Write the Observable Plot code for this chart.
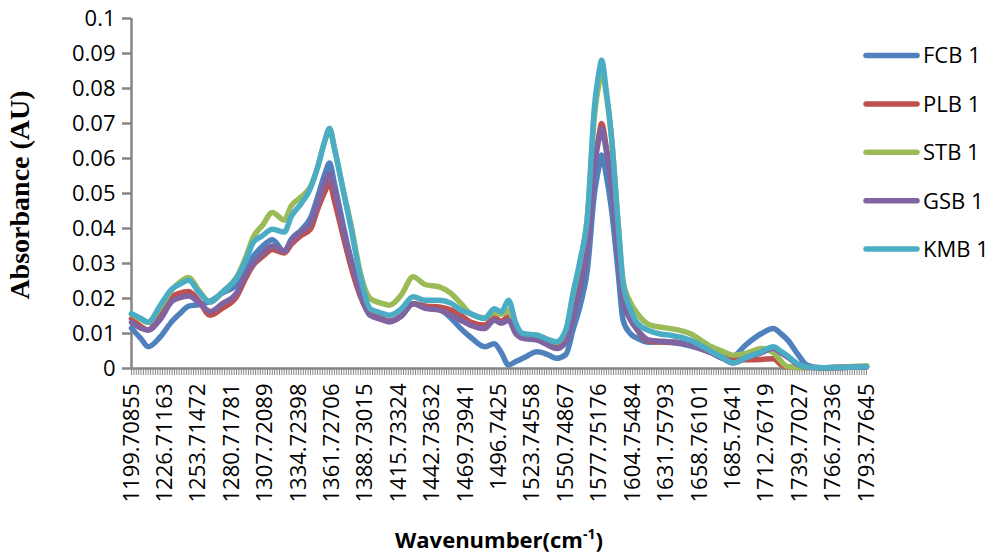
<!DOCTYPE html>
<html><head><meta charset="utf-8">
<script src="https://cdn.jsdelivr.net/npm/d3@7"></script>
<script src="https://cdn.jsdelivr.net/npm/@observablehq/plot@0.6"></script>
<style>
body{margin:0;background:#fff;}
#chart{position:relative;width:994px;height:553px;overflow:hidden;}
</style>
</head><body><div id="chart"></div>
<script>
const seriesNames = ["FCB 1","PLB 1","STB 1","GSB 1","KMB 1"];
const seriesColors = ["#4F81BD","#C0504D","#9BBB59","#8064A2","#4BACC6"];

const wavenumbers = [1199.71,1207.42,1213.21,1222.85,1232.50,1238.28,1246.00,1253.71,1263.36,1273.00,
1284.58,1292.29,1298.08,1305.79,1313.51,1323.15,1328.94,1336.65,1344.37,1350.15,
1355.94,1359.80,1363.66,1371.37,1377.16,1384.87,1392.59,1400.30,1408.02,1417.66,
1427.31,1436.95,1448.52,1458.17,1465.88,1473.60,1485.17,1492.88,1498.67,1504.46,
1510.24,1516.03,1527.60,1537.25,1543.03,1550.75,1556.54,1562.32,1568.11,1573.89,
1577.75,1579.68,1583.54,1587.40,1593.18,1597.04,1602.83,1608.61,1618.26,1627.90,
1635.62,1651.05,1668.41,1678.05,1685.76,1695.41,1708.91,1718.56,1724.34,1730.13,
1737.84,1745.56,1757.13,1772.56,1793.78];

const fcb = [0.0115,0.0085,0.0062,0.009,0.0135,0.0155,0.0178,0.0182,0.0192,0.0215,
0.024,0.029,0.032,0.035,0.0368,0.0335,0.037,0.0395,0.043,0.049,
0.0555,0.0587,0.053,0.040,0.031,0.021,0.0155,0.0145,0.0135,0.015,
0.0185,0.0178,0.017,0.0143,0.0114,0.009,0.0062,0.0071,0.0045,0.001,
0.002,0.0029,0.0048,0.0038,0.0029,0.004,0.011,0.018,0.028,0.050,
0.058,0.061,0.055,0.0462,0.027,0.0138,0.010,0.0086,0.0075,0.0076,
0.0074,0.0065,0.0045,0.003,0.0033,0.0065,0.010,0.0114,0.010,0.0081,
0.0043,0.001,0.0002,0.0003,0.0005];

const plb = [0.0142,0.012,0.011,0.0155,0.0205,0.0215,0.022,0.0195,0.0152,0.0172,
0.0205,0.026,0.0295,0.032,0.034,0.033,0.0355,0.038,0.0398,0.0455,
0.0505,0.053,0.048,0.037,0.029,0.0205,0.0155,0.0145,0.0135,0.015,
0.0186,0.0178,0.0176,0.0167,0.0152,0.0133,0.0124,0.0145,0.0135,0.0148,
0.011,0.009,0.0088,0.0072,0.006,0.008,0.0145,0.024,0.034,0.058,
0.067,0.070,0.063,0.054,0.033,0.021,0.015,0.011,0.0078,0.0076,
0.0076,0.0068,0.0045,0.0032,0.0026,0.0025,0.0026,0.0028,0.0012,0.0004,
0.0003,0.0003,0.0002,0.0003,0.0005];

const stb = [0.0155,0.014,0.0132,0.0175,0.0225,0.0245,0.026,0.0225,0.019,0.0218,
0.026,0.032,0.0375,0.041,0.0446,0.0424,0.0465,0.049,0.052,0.0575,
0.065,0.0685,0.063,0.050,0.041,0.027,0.020,0.0188,0.0181,0.021,
0.0262,0.024,0.0233,0.0214,0.0186,0.0157,0.0145,0.016,0.0155,0.0167,
0.012,0.0098,0.0095,0.008,0.0075,0.0105,0.021,0.030,0.043,0.072,
0.082,0.0852,0.078,0.067,0.041,0.025,0.019,0.0157,0.0125,0.0118,
0.0114,0.010,0.0062,0.0048,0.0038,0.0042,0.0057,0.0045,0.0022,0.0005,
0.0003,0.0003,0.0002,0.0004,0.0008];

const gsb = [0.0132,0.0115,0.011,0.014,0.0192,0.0202,0.0207,0.019,0.0163,0.0185,
0.0215,0.027,0.030,0.033,0.035,0.0335,0.0365,0.039,0.0415,0.047,
0.053,0.0557,0.051,0.039,0.031,0.021,0.0152,0.0142,0.0133,0.015,
0.0185,0.0172,0.0167,0.0152,0.0138,0.0124,0.0114,0.0138,0.0129,0.0138,
0.010,0.0086,0.0081,0.0065,0.0057,0.0075,0.0145,0.023,0.034,0.0576,
0.066,0.0686,0.062,0.0538,0.0329,0.0195,0.014,0.011,0.0081,0.0078,
0.0076,0.0068,0.0045,0.0028,0.0016,0.0028,0.0045,0.0058,0.0045,0.0032,
0.0012,0.0004,0.0002,0.0003,0.0005];

const kmb = [0.0157,0.0143,0.0132,0.018,0.0228,0.024,0.0252,0.022,0.019,0.0218,
0.0258,0.031,0.036,0.038,0.0398,0.039,0.0435,0.047,0.0515,0.0575,
0.065,0.0686,0.063,0.050,0.040,0.026,0.0171,0.016,0.0152,0.017,
0.0205,0.0195,0.0195,0.0186,0.0167,0.0157,0.0143,0.0171,0.0162,0.0195,
0.013,0.010,0.0095,0.0082,0.0076,0.011,0.0214,0.031,0.043,0.0747,
0.085,0.0881,0.079,0.0671,0.0405,0.0243,0.017,0.0129,0.0108,0.0098,
0.0095,0.0081,0.0048,0.003,0.0016,0.003,0.0048,0.0062,0.005,0.0036,
0.0014,0.0004,0.0002,0.0003,0.0005];

const xTickLabels = ["1199.70855","1226.71163","1253.71472","1280.71781","1307.72089","1334.72398",
"1361.72706","1388.73015","1415.73324","1442.73632","1469.73941","1496.7425","1523.74558",
"1550.74867","1577.75176","1604.75484","1631.75793","1658.76101","1685.7641","1712.76719",
"1739.77027","1766.77336","1793.77645"];
const categoriesPerLabel = 14;

const yTicks = [0,0.01,0.02,0.03,0.04,0.05,0.06,0.07,0.08,0.09,0.1];
const yTickLabels = ["0","0.01","0.02","0.03","0.04","0.05","0.06","0.07","0.08","0.09","0.1"];

const allSeries = [fcb, plb, stb, gsb, kmb];
const rows = [];
allSeries.forEach((vals, s) => vals.forEach((v, i) => rows.push({series: seriesNames[s], w: wavenumbers[i], v})));

const labelValues = xTickLabels.map(Number);
const step = (labelValues[1] - labelValues[0]) / categoriesPerLabel;
const categoryTicks = d3.range(0, (labelValues.length - 1) * categoriesPerLabel + 1).map(i => labelValues[0] + i * step);

const axisGray = "#868686";
const plot = Plot.plot({
  width: 994, height: 553,
  marginLeft: 131, marginRight: 128, marginTop: 18, marginBottom: 185,
  style: {fontFamily: "'Open Sans', sans-serif", fontSize: "22px", color: "#000", background: "#fff"},
  x: {domain: [labelValues[0], labelValues[labelValues.length - 1]]},
  y: {domain: [0, 0.1]},
  color: {domain: seriesNames, range: seriesColors},
  marks: [
    Plot.ruleY([0], {stroke: axisGray, strokeWidth: 2.5}),
    Plot.axisX(categoryTicks, {tickSize: 7, tickFormat: () => "", stroke: axisGray, strokeWidth: 1, label: null}),
    Plot.axisX(labelValues, {tickSize: 0, tickPadding: 15, tickRotate: -90, tickFormat: (d, i) => xTickLabels[i], fontSize: 22, fill: "#000", label: null}),
    Plot.axisY(yTicks, {tickSize: 9, tickPadding: 7, tickFormat: (d, i) => yTickLabels[i], fontSize: 22, stroke: axisGray, strokeWidth: 2.5, fill: "#000", label: null}),
    Plot.ruleX([labelValues[0]], {y1: 0, y2: 0.1, stroke: axisGray, strokeWidth: 2.5}),
    Plot.line(rows, {x: "w", y: "v", stroke: "series", z: "series", strokeWidth: 5.5, curve: "monotone-x", strokeLinejoin: "round", strokeLinecap: "round"})
  ]
});
document.getElementById("chart").appendChild(plot);

const svg = d3.select(plot);
// legend
const lg = svg.append("g").attr("font-family", "'Open Sans', sans-serif").attr("font-size", 22).attr("text-anchor", "start");
seriesNames.forEach((name, i) => {
  const y = 55.5 + i * 48.4;
  lg.append("line").attr("x1", 866).attr("x2", 917).attr("y1", y).attr("y2", y)
    .attr("stroke", seriesColors[i]).attr("stroke-width", 5.5).attr("stroke-linecap", "round");
  lg.append("text").attr("x", 923).attr("y", y).attr("dy", "0.36em").attr("text-anchor", "start").attr("fill", "#000").text(name);
});
// x axis title
const xt = svg.append("text").attr("x", 499).attr("y", 548).attr("text-anchor", "middle")
  .attr("font-family", "'Open Sans', sans-serif").attr("font-weight", "bold").attr("font-size", 22).attr("fill", "#000");
xt.append("tspan").text("Wavenumber(cm");
xt.append("tspan").attr("font-size", 14).attr("dy", -9).text("-1");
xt.append("tspan").attr("dy", 9).text(")");
// y axis title
svg.append("text").attr("transform", "translate(29,195) rotate(-90)").attr("text-anchor", "middle")
  .attr("font-family", "'Liberation Serif', 'Times New Roman', serif").attr("font-weight", "bold")
  .attr("font-size", 28).attr("fill", "#000").text("Absorbance (AU)");
</script>
</body></html>
